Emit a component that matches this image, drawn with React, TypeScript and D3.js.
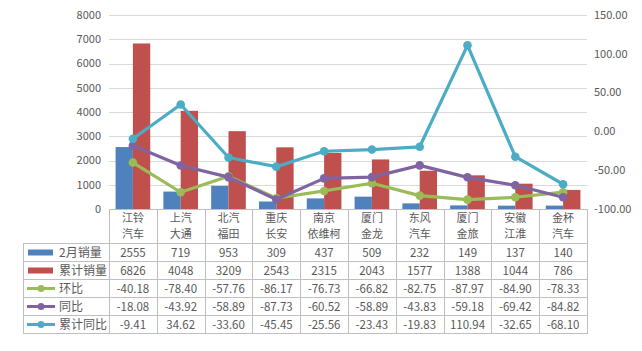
import React, { useEffect, useRef } from "react";
import * as d3 from "d3";

// categories (two lines each)
const categories: [string, string][] = [
  ["江铃", "汽车"],
  ["上汽", "大通"],
  ["北汽", "福田"],
  ["重庆", "长安"],
  ["南京", "依维柯"],
  ["厦门", "金龙"],
  ["东风", "汽车"],
  ["厦门", "金旅"],
  ["安徽", "江淮"],
  ["金杯", "汽车"],
];

const febSales = [2555, 719, 953, 309, 437, 509, 232, 149, 137, 140];
const cumSales = [6826, 4048, 3209, 2543, 2315, 2043, 1577, 1388, 1044, 786];
const momRate = [-40.18, -78.4, -57.76, -86.17, -76.73, -66.82, -82.75, -87.97, -84.9, -78.33];
const yoyRate = [-18.08, -43.92, -58.89, -87.73, -60.52, -58.89, -43.83, -59.18, -69.42, -84.82];
const cumYoyRate = [-9.41, 34.62, -33.6, -45.45, -25.56, -23.43, -19.83, 110.94, -32.65, -68.1];

const leftTicks = [0, 1000, 2000, 3000, 4000, 5000, 6000, 7000, 8000];
const rightTicks = [-100, -50, 0, 50, 100, 150];

const barSeries = [
  { name: "2月销量", values: febSales, color: "#4F81BD" },
  { name: "累计销量", values: cumSales, color: "#C0504D" },
];
const lineSeries = [
  { name: "环比", values: momRate, color: "#9BBB59" },
  { name: "同比", values: yoyRate, color: "#8064A2" },
  { name: "累计同比", values: cumYoyRate, color: "#4BACC6" },
];

const App = () => {
  const svgRef = useRef<SVGSVGElement>(null);

  useEffect(() => {
    const svg = d3.select(svgRef.current);
    svg.selectAll("*").remove();

    const font = "'Noto Sans CJK SC', 'Microsoft YaHei', sans-serif";
    const textColor = "#595959";
    const gridColor = "#D9D9D9";
    const tableColor = "#BFBFBF";

    const plotLeft = 109;
    const plotRight = 587;
    const plotTop = 15;
    const plotBottom = 209;
    const tableLeft = 23;
    const headerBottom = 243;
    const rowH = 18;

    // chart border
    svg
      .append("rect")
      .attr("x", 0.5)
      .attr("y", 0.5)
      .attr("width", 640)
      .attr("height", 346)
      .attr("fill", "#fff")
      .attr("stroke", "#D9D9D9");

    const names = categories.map((c) => c.join(""));
    const x = d3.scaleBand().domain(names).range([plotLeft, plotRight]).padding(0);
    const xInner = d3
      .scaleBand()
      .domain(barSeries.map((s) => s.name))
      .range([0, x.bandwidth()])
      .paddingInner(0)
      .paddingOuter(0.38);
    const yL = d3.scaleLinear().domain([0, 8000]).range([plotBottom, plotTop]);
    const yR = d3.scaleLinear().domain([-100, 150]).range([plotBottom, plotTop]);

    // gridlines
    svg
      .append("g")
      .selectAll("line")
      .data(leftTicks.slice(1))
      .enter()
      .append("line")
      .attr("x1", plotLeft)
      .attr("x2", plotRight)
      .attr("y1", (d) => Math.round(yL(d)) + 0.5)
      .attr("y2", (d) => Math.round(yL(d)) + 0.5)
      .attr("stroke", gridColor);

    // left tick labels
    svg
      .append("g")
      .selectAll("text")
      .data(leftTicks)
      .enter()
      .append("text")
      .attr("x", 101)
      .attr("y", (d) => yL(d))
      .attr("dy", "0.35em")
      .attr("text-anchor", "end")
      .attr("font-family", font)
      .attr("font-size", 11)
      .attr("fill", textColor)
      .text((d) => d);

    // right tick labels
    svg
      .append("g")
      .selectAll("text")
      .data(rightTicks)
      .enter()
      .append("text")
      .attr("x", 594)
      .attr("y", (d) => yR(d))
      .attr("dy", "0.35em")
      .attr("text-anchor", "start")
      .attr("font-family", font)
      .attr("font-size", 11)
      .attr("fill", textColor)
      .text((d) => d.toFixed(2));

    // bars
    barSeries.forEach((s) => {
      svg
        .append("g")
        .selectAll("rect")
        .data(s.values)
        .enter()
        .append("rect")
        .attr("x", (d, i) => (x(names[i]) as number) + (xInner(s.name) as number))
        .attr("y", (d) => yL(d))
        .attr("width", xInner.bandwidth())
        .attr("height", (d) => plotBottom - yL(d))
        .attr("fill", s.color);
    });

    // lines
    const cx = (i: number) => (x(names[i]) as number) + x.bandwidth() / 2;
    const line = d3
      .line<number>()
      .x((d, i) => cx(i))
      .y((d) => yR(d));
    lineSeries.forEach((s) => {
      const g = svg.append("g");
      g.append("path")
        .datum(s.values)
        .attr("fill", "none")
        .attr("stroke", s.color)
        .attr("stroke-width", 3.2)
        .attr("stroke-linejoin", "round")
        .attr("d", line);
      g.selectAll("circle")
        .data(s.values)
        .enter()
        .append("circle")
        .attr("cx", (d, i) => cx(i))
        .attr("cy", (d) => yR(d))
        .attr("r", 4.3)
        .attr("fill", s.color);
    });

    // axis line
    svg
      .append("line")
      .attr("x1", plotLeft)
      .attr("x2", plotRight)
      .attr("y1", plotBottom + 0.5)
      .attr("y2", plotBottom + 0.5)
      .attr("stroke", tableColor);

    // data table
    const table = svg.append("g");
    const allRows = [...barSeries, ...lineSeries];
    const tableBottom = headerBottom + rowH * allRows.length;

    // vertical lines between categories
    names.forEach((n) => {
      const xx = Math.round(x(n) as number) + 0.5;
      table
        .append("line")
        .attr("x1", xx)
        .attr("x2", xx)
        .attr("y1", plotBottom)
        .attr("y2", tableBottom)
        .attr("stroke", tableColor);
    });
    table
      .append("line")
      .attr("x1", plotRight + 0.5)
      .attr("x2", plotRight + 0.5)
      .attr("y1", plotBottom)
      .attr("y2", tableBottom)
      .attr("stroke", tableColor);
    table
      .append("line")
      .attr("x1", tableLeft + 0.5)
      .attr("x2", tableLeft + 0.5)
      .attr("y1", headerBottom)
      .attr("y2", tableBottom)
      .attr("stroke", tableColor);
    d3.range(allRows.length + 1).forEach((r) => {
      const yy = headerBottom + r * rowH + 0.5;
      table
        .append("line")
        .attr("x1", tableLeft)
        .attr("x2", plotRight + 1)
        .attr("y1", yy)
        .attr("y2", yy)
        .attr("stroke", tableColor);
    });

    // category labels (two lines)
    categories.forEach((c, i) => {
      c.forEach((part, k) => {
        table
          .append("text")
          .attr("x", cx(i))
          .attr("y", 221.5 + k * 16)
          .attr("text-anchor", "middle")
          .attr("font-family", font)
          .attr("font-size", 11)
          .attr("fill", textColor)
          .text(part);
      });
    });

    // rows
    allRows.forEach((s, r) => {
      const yMid = headerBottom + r * rowH + rowH / 2 + 0.5;
      if (r < barSeries.length) {
        table
          .append("rect")
          .attr("x", 28)
          .attr("y", yMid - 3)
          .attr("width", 25)
          .attr("height", 6)
          .attr("fill", s.color);
      } else {
        table
          .append("line")
          .attr("x1", 27)
          .attr("x2", 55)
          .attr("y1", yMid)
          .attr("y2", yMid)
          .attr("stroke", s.color)
          .attr("stroke-width", 3);
        table
          .append("circle")
          .attr("cx", 41)
          .attr("cy", yMid)
          .attr("r", 3.5)
          .attr("fill", s.color);
      }
      table
        .append("text")
        .attr("x", 59)
        .attr("y", yMid)
        .attr("dy", "0.35em")
        .attr("font-family", font)
        .attr("font-size", 12)
        .attr("fill", textColor)
        .text(s.name);
      s.values.forEach((v, i) => {
        table
          .append("text")
          .attr("x", cx(i))
          .attr("y", yMid)
          .attr("dy", "0.35em")
          .attr("text-anchor", "middle")
          .attr("font-family", font)
          .attr("font-size", 11.5)
          .attr("fill", textColor)
          .text(r < barSeries.length ? String(v) : v.toFixed(2));
      });
    });
  }, []);

  return (
    <div style={{ margin: -8 }}>
      <svg ref={svgRef} width={642} height={351} style={{ display: "block" }} />
    </div>
  );
};

export default App;
